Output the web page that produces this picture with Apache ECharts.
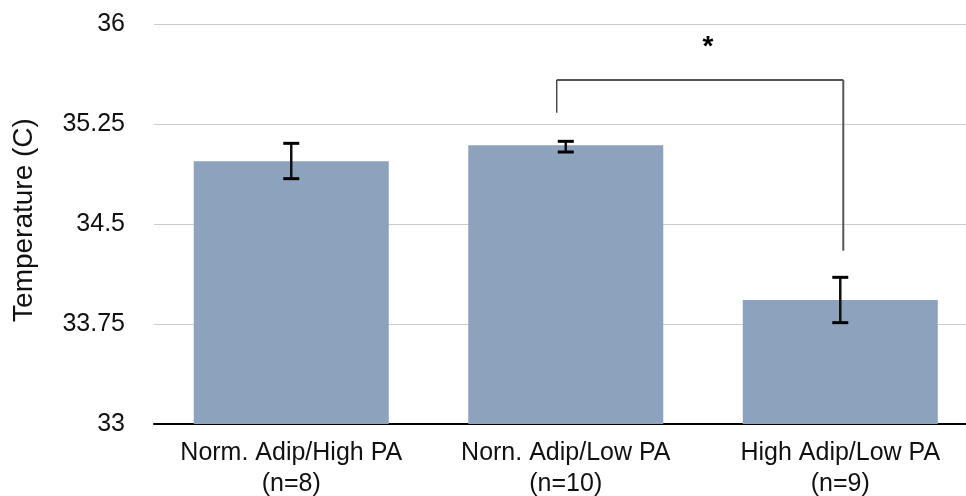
<!DOCTYPE html>
<html><head><meta charset="utf-8">
<script src="https://cdn.jsdelivr.net/npm/echarts@6/dist/echarts.min.js"></script>
<style>html,body{margin:0;padding:0;background:#fff}#c{width:966px;height:496px}</style>
</head><body><div id="c"></div>
<script>
const categories = ['Norm. Adip/High PA\n(n=8)', 'Norn. Adip/Low PA\n(n=10)', 'High Adip/Low PA\n(n=9)'];
const means = [34.97, 35.09, 33.93];
const errLow = [34.84, 35.04, 33.76];
const errHigh = [35.105, 35.12, 34.10];
// significance bracket: [fromCategory, toCategory, topValue, leftBottom, rightBottom, starValue]
const bracket = [1, 2, 35.58, 35.335, 34.30, 35.93];
// x extent of the plot in category units (the original plot is cut off at the right edge)
const xMin = -0.5, xMax = 2.458;

const chart = echarts.init(document.getElementById('c'), null, {renderer: 'canvas'});
const font = 'Liberation Sans, Arial, Helvetica, sans-serif';

chart.setOption({
  animation: false,
  grid: {left: 154, right: 0, top: 24, bottom: 72, containLabel: false},
  xAxis: {
    type: 'value', min: xMin, max: xMax,
    axisLine: {show: true, onZero: false, lineStyle: {color: '#000', width: 2}},
    axisTick: {show: false}, axisLabel: {show: false}, splitLine: {show: false}
  },
  yAxis: {
    type: 'value', min: 33, max: 36, interval: 0.75,
    name: 'Temperature (C)', nameLocation: 'middle', nameGap: 116,
    nameTextStyle: {color: '#111', fontSize: 28, fontFamily: font, padding: [0, 0, 0, 8]},
    axisLine: {show: false}, axisTick: {show: false},
    axisLabel: {color: '#111', fontSize: 25, fontFamily: font, margin: 29},
    splitLine: {lineStyle: {color: '#cccccc', width: 1}}
  },
  series: [
    {
      type: 'bar', data: means.map((m, i) => [i, m]), barWidth: 195,
      itemStyle: {color: '#8ca2bd'}, z: 2
    },
    {
      type: 'custom', z: 5, clip: false,
      data: categories.map((c, i) => [i, 33]),
      renderItem: function (params, api) {
        const p = api.coord([api.value(0), api.value(1)]);
        return {type: 'text', x: p[0], y: p[1] + 14, style: {
          text: categories[params.dataIndex], fill: '#111', font: '25px ' + font,
          lineHeight: 31, textAlign: 'center', textVerticalAlign: 'top'}};
      }
    },
    {
      type: 'custom', z: 5,
      data: means.map((m, i) => [i, errLow[i], errHigh[i]]),
      renderItem: function (params, api) {
        const lo = api.coord([api.value(0), api.value(1)]);
        const hi = api.coord([api.value(0), api.value(2)]);
        const cap = 8;
        const st = {stroke: '#000', lineWidth: 3};
        return {type: 'group', children: [
          {type: 'line', shape: {x1: lo[0], y1: lo[1], x2: hi[0], y2: hi[1]}, style: {stroke: '#111', lineWidth: 2.5}},
          {type: 'line', shape: {x1: lo[0]-cap, y1: lo[1], x2: lo[0]+cap, y2: lo[1]}, style: st},
          {type: 'line', shape: {x1: hi[0]-cap, y1: hi[1], x2: hi[0]+cap, y2: hi[1]}, style: st}
        ]};
      }
    },
    {
      type: 'custom', z: 6, clip: false,
      data: [bracket],
      renderItem: function (params, api) {
        const a = api.value(0), b = api.value(1);
        const top = api.value(2), lb = api.value(3), rb = api.value(4), sv = api.value(5);
        const pL = api.coord([a, top]), pLb = api.coord([a, lb]);
        const pR = api.coord([b, top]), pRb = api.coord([b, rb]);
        const xl = pL[0] - 9, xr = pR[0] + 3;
        const pS = api.coord([a, sv]);
        return {type: 'group', children: [
          {type: 'line', shape: {x1: xl, y1: pL[1], x2: xl, y2: pLb[1]}, style: {stroke: '#222', lineWidth: 1.2}},
          {type: 'line', shape: {x1: xl, y1: pL[1], x2: xr, y2: pR[1]}, style: {stroke: '#555', lineWidth: 2}},
          {type: 'line', shape: {x1: xr, y1: pR[1], x2: xr, y2: pRb[1]}, style: {stroke: '#555', lineWidth: 2}},
          {type: 'text', x: (xl + xr) / 2 + 8, y: pS[1], style: {text: '*', fill: '#000', font: 'bold 28px ' + font, textAlign: 'center', textVerticalAlign: 'top'}}
        ]};
      }
    }
  ]
});
</script></body></html>
